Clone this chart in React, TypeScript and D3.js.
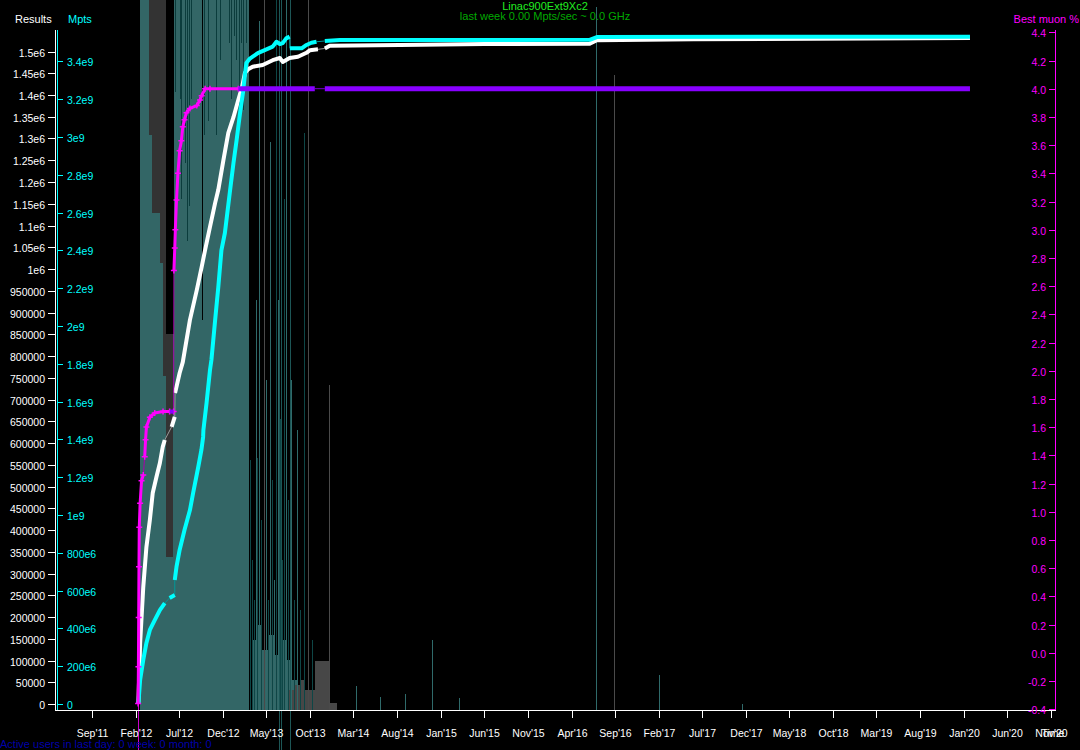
import React, { useEffect } from "react";
import * as d3 from "d3";

const W = 1080;
const H = 750;
const parse = d3.timeParse("%Y-%m-%d");
const parseTick = d3.timeParse("%b'%y");

// ---------- tick labels ----------
const xTickLabels = ["Sep'11","Feb'12","Jul'12","Dec'12","May'13","Oct'13","Mar'14","Aug'14","Jan'15","Jun'15","Nov'15","Apr'16","Sep'16","Feb'17","Jul'17","Dec'17","May'18","Oct'18","Mar'19","Aug'19","Jan'20","Jun'20","Nov'20"];
const resultsTickLabels = ["0","50000","100000","150000","200000","250000","300000","350000","400000","450000","500000","550000","600000","650000","700000","750000","800000","850000","900000","950000","1e6","1.05e6","1.1e6","1.15e6","1.2e6","1.25e6","1.3e6","1.35e6","1.4e6","1.45e6","1.5e6"];
const mptsTickLabels = ["0","200e6","400e6","600e6","800e6","1e9","1.2e9","1.4e9","1.6e9","1.8e9","2e9","2.2e9","2.4e9","2.6e9","2.8e9","3e9","3.2e9","3.4e9"];
const muonTickLabels = ["-0.4","-0.2","0.0","0.2","0.4","0.6","0.8","1.0","1.2","1.4","1.6","1.8","2.0","2.2","2.4","2.6","2.8","3.0","3.2","3.4","3.6","3.8","4.0","4.2","4.4"];

// ---------- series: cumulative results ----------
const resultsData: [string, number][] = [
  ["2012-02-09", 2300], ["2012-02-15", 140000], ["2012-02-26", 269000], ["2012-03-08", 361000],
  ["2012-03-20", 423000], ["2012-03-30", 485000], ["2012-04-12", 522000], ["2012-04-24", 554000],
  ["2012-05-04", 591000], ["2012-05-11", 607000], ["2012-06-04", 637000], ["2012-06-15", 660000],
  ["2012-06-16", 715000], ["2012-06-21", 729000], ["2012-07-02", 761000], ["2012-07-13", 786000],
  ["2012-08-07", 883000], ["2012-08-31", 952000], ["2012-09-17", 1005000], ["2012-09-29", 1044000],
  ["2012-10-16", 1097000], ["2012-11-03", 1152000], ["2012-11-14", 1182000], ["2012-12-02", 1251000],
  ["2012-12-19", 1313000], ["2013-01-06", 1349000], ["2013-01-23", 1389000], ["2013-02-05", 1418000],
  ["2013-02-15", 1451000], ["2013-02-26", 1459000], ["2013-03-14", 1465000], ["2013-04-18", 1469000],
  ["2013-05-23", 1480000], ["2013-06-17", 1485000], ["2013-06-27", 1476000], ["2013-07-21", 1485000],
  ["2013-08-19", 1488000], ["2013-09-18", 1497000], ["2013-09-30", 1503000], ["2013-10-28", 1505000],
  ["2013-11-21", 1507000], ["2013-12-08", 1513000], ["2014-08-09", 1515000], ["2015-06-01", 1517000],
  ["2016-06-03", 1518000], ["2016-06-28", 1526000], ["2017-06-01", 1528000], ["2020-01-22", 1531000],
];
const resultsGaps = [10, 12, 40];

// ---------- series: cumulative Mpts ----------
const mptsData: [string, number][] = [
  ["2012-02-09", 3.7e6], ["2012-02-15", 127e6], ["2012-02-26", 233e6], ["2012-03-08", 323e6],
  ["2012-03-20", 392e6], ["2012-04-06", 444e6], ["2012-04-24", 497e6], ["2012-05-11", 534e6],
  ["2012-05-28", 561e6], ["2012-06-15", 577e6], ["2012-06-15", 656e6], ["2012-06-21", 725e6],
  ["2012-07-02", 815e6], ["2012-07-19", 921e6], ["2012-08-07", 1026e6], ["2012-08-18", 1116e6],
  ["2012-09-05", 1254e6], ["2012-09-16", 1344e6], ["2012-09-22", 1413e6], ["2012-09-23", 1450e6],
  ["2012-10-04", 1593e6], ["2012-10-16", 1767e6], ["2012-10-21", 1820e6], ["2012-11-03", 2032e6],
  ["2012-11-14", 2206e6], ["2012-11-25", 2402e6], ["2012-12-07", 2492e6], ["2012-12-24", 2704e6],
  ["2013-01-06", 2862e6], ["2013-01-17", 2984e6], ["2013-01-29", 3127e6], ["2013-02-08", 3233e6],
  ["2013-02-15", 3330e6], ["2013-02-20", 3392e6], ["2013-03-03", 3413e6], ["2013-04-01", 3444e6],
  ["2013-05-23", 3478e6], ["2013-06-05", 3504e6], ["2013-06-17", 3492e6], ["2013-06-27", 3497e6],
  ["2013-07-09", 3522e6], ["2013-07-21", 3531e6], ["2013-07-22", 3469e6], ["2013-09-01", 3469e6],
  ["2013-09-18", 3487e6], ["2013-10-05", 3499e6], ["2013-10-23", 3504e6], ["2013-11-21", 3508e6],
  ["2014-01-13", 3513e6], ["2016-06-03", 3514e6], ["2016-06-28", 3529e6], ["2020-01-22", 3531e6],
];
const mptsGaps = [8, 10, 42, 47];

// ---------- series: best muon % ----------
const muonData: [string, number][] = [
  ["2012-02-08", -0.36], ["2012-02-09", -0.1], ["2012-02-10", 0.25], ["2012-02-11", 0.61],
  ["2012-02-12", 0.89], ["2012-02-15", 1.06], ["2012-02-20", 1.22], ["2012-02-26", 1.26],
  ["2012-03-02", 1.39], ["2012-03-05", 1.51], ["2012-03-08", 1.6], ["2012-03-20", 1.67],
  ["2012-04-06", 1.7], ["2012-05-05", 1.71], ["2012-05-28", 1.71], ["2012-06-11", 1.71],
  ["2012-06-12", 2.71], ["2012-06-15", 2.87], ["2012-06-17", 3.0], ["2012-06-21", 3.21],
  ["2012-06-26", 3.4], ["2012-07-02", 3.56], ["2012-07-08", 3.63], ["2012-07-13", 3.73],
  ["2012-07-19", 3.78], ["2012-07-26", 3.83], ["2012-08-07", 3.86], ["2012-08-31", 3.88],
  ["2012-09-11", 3.92], ["2012-09-17", 3.95], ["2012-09-29", 4.0], ["2012-10-16", 4.0],
  ["2013-01-23", 4.0],
];
const muonGaps = [8, 16];
const muonPlateauEarly: [string, number][] = [["2012-05-28", 1.71], ["2012-06-11", 1.71]];
const muonPlateauLate: [string, number][] = [
  ["2013-01-23", 4.0], ["2013-10-17", 4.0], ["2013-11-21", 4.0], ["2020-01-22", 4.0],
];
const muonPlateauGaps = [2];

// ---------- background activity (fraction of plot height) ----------
const tealLevels: [string, number][] = [
  ["2012-02-15", 1], ["2012-03-17", 0.81], ["2012-03-28", 0.7], ["2012-04-24", 0.63],
  ["2012-05-04", 0.47], ["2012-05-14", 0.215], ["2012-06-08", 1], ["2013-02-28", 0],
];
const grayLevels: [string, number][] = [
  ["2012-03-17", 1], ["2012-05-14", 0.53], ["2012-06-08", 0],
];
const darkStreaks: [string, number][] = [
  ["2012-06-17", 0.87], ["2012-07-02", 0.86], ["2012-07-08", 0.72], ["2012-07-19", 0.77],
  ["2012-07-27", 0.66], ["2012-08-04", 0.71], ["2012-08-12", 0.86], ["2012-09-25", 0.81],
  ["2012-10-09", 0.83], ["2012-11-06", 0.81], ["2012-11-20", 0.915], ["2012-12-21", 0.94],
  ["2012-12-28", 0.86], ["2013-01-08", 0.95], ["2013-01-15", 0.915], ["2013-01-26", 0.82],
  ["2013-02-02", 0.94], ["2013-02-09", 0.845], ["2013-02-19", 0.94],
];
const blackStreaks: [string, number][] = [["2012-09-17", 0.55], ["2012-06-09", 0.53]];
const tealLow: [string, number][] = [
  ["2013-03-10", 0.099], ["2013-03-24", 0.12], ["2013-04-11", 0.085], ["2013-05-05", 0.106],
  ["2013-05-26", 0.077], ["2013-06-17", 0.099], ["2013-07-07", 0.07], ["2013-07-25", 0.042],
  ["2013-08-16", 0.028], ["2013-09-01", 0],
];
const grayLow: [string, number][] = [
  ["2013-07-14", 0.028], ["2013-08-05", 0.035], ["2013-08-26", 0.042], ["2013-09-12", 0.028],
  ["2013-10-17", 0.069], ["2013-12-08", 0.01], ["2014-01-01", 0],
];
const tealSpikes: [string, number][] = [
  ["2013-03-24", 0.577], ["2013-04-04", 0.97], ["2013-04-28", 0.465], ["2013-05-12", 0.8],
  ["2013-05-26", 0.183], ["2013-06-09", 0.577], ["2013-07-07", 1], ["2013-07-25", 0.465],
  ["2013-08-16", 0.394], ["2014-03-09", 0.034], ["2014-06-01", 0.018], ["2014-08-27", 0.023],
  ["2014-11-30", 0.099], ["2015-03-06", 0.017], ["2016-06-24", 0.99], ["2017-02-01", 0.049],
  ["2017-11-16", 0.008],
];
const darkSpikes: [string, number][] = [
  ["2013-03-03", 0.352], ["2013-03-10", 0.211], ["2013-03-17", 0.155], ["2013-03-30", 0.355],
  ["2013-04-11", 0.268], ["2013-05-05", 0.155], ["2013-05-19", 0.324], ["2013-06-02", 1],
  ["2013-06-17", 0.41], ["2013-06-24", 0.211], ["2013-06-30", 0.72], ["2013-07-14", 0.296],
  ["2013-08-05", 0.155], ["2013-08-26", 0.141], ["2013-09-09", 0.813], ["2013-10-07", 0.099],
];
const graySpikes: [string, number][] = [
  ["2013-04-22", 1], ["2013-09-24", 1], ["2013-12-05", 0.458], ["2016-08-26", 0.894],
];
const belowAxisLines: string[] = ["2013-06-13", "2013-06-20", "2013-07-21"];

const FONT = "'Liberation Sans', Arial, sans-serif";

function splitSegments<T>(data: T[], gaps: number[]) {
  const thick: T[][] = [];
  let cur: T[] = [];
  data.forEach((d, i) => {
    if (gaps.includes(i) && cur.length) {
      thick.push(cur);
      cur = [];
    }
    cur.push(d);
  });
  if (cur.length) thick.push(cur);
  const thin = gaps.map((i) => [data[i - 1], data[i]]);
  return { thick, thin };
}

export default function App() {
  useEffect(() => {
    document.body.style.margin = "0";
    document.body.style.background = "#000";
  }, []);

  const x = d3
    .scaleTime()
    .domain([parseTick(xTickLabels[0]) as Date, parseTick(xTickLabels[xTickLabels.length - 1]) as Date])
    .range([92.3, 1051.3]);
  const yRes = d3.scaleLinear().domain([0, 1.5e6]).range([704, 51.5]);
  const yMpts = d3.scaleLinear().domain([0, 3.4e9]).range([704, 704 - 3.4 * 189]);
  const yMuon = d3.scaleLinear().domain([-0.4, 4.4]).range([709.1, 32.3]);
  const yRate = d3.scaleLinear().domain([0, 1]).range([710, 0]);

  const px = (d: [string, number]) => x(parse(d[0]) as Date);

  const stepArea = d3
    .area<[string, number]>()
    .curve(d3.curveStepAfter)
    .x(px)
    .y0(yRate(0))
    .y1((d) => yRate(d[1]));

  const lineFor = (y: d3.ScaleLinear<number, number>) =>
    d3
      .line<[string, number]>()
      .x(px)
      .y((d) => y(d[1]));

  const resLine = lineFor(yRes);
  const mptsLine = lineFor(yMpts);
  const muonLine = lineFor(yMuon);

  const resSeg = splitSegments(resultsData, resultsGaps);
  const mptsSeg = splitSegments(mptsData, mptsGaps);
  const muonSeg = splitSegments(muonData, muonGaps);
  const plateauSeg = splitSegments(muonPlateauLate, muonPlateauGaps);

  const spikeLines = (data: [string, number][], color: string, key: string) =>
    data.map((d, i) => (
      <line
        key={key + i}
        x1={Math.round(px(d)) + 0.5}
        x2={Math.round(px(d)) + 0.5}
        y1={yRate(0)}
        y2={yRate(d[1])}
        stroke={color}
        strokeWidth={1}
      />
    ));

  const hangLines = (data: [string, number][], color: string, key: string) =>
    data.map((d, i) => (
      <line
        key={key + i}
        x1={Math.round(px(d)) + 0.5}
        x2={Math.round(px(d)) + 0.5}
        y1={yRate(1)}
        y2={yRate(d[1])}
        stroke={color}
        strokeWidth={1}
      />
    ));

  const firstMuon = muonData[0];

  return (
    <svg
      width={W}
      height={H}
      style={{ display: "block", background: "#000", position: "absolute", left: 0, top: 0 }}
      fontFamily={FONT}
      fontSize={10.5}
    >
      <rect x={0} y={0} width={W} height={H} fill="#000" />

      {/* background activity */}
      <g shapeRendering="crispEdges">
        <path d={stepArea(grayLevels) || ""} fill="#333333" />
        <path d={stepArea(tealLevels) || ""} fill="#336666" />
        {hangLines(darkStreaks, "#0b3c3c", "ds")}
        {hangLines(blackStreaks, "#000000", "bs")}
        <path d={stepArea(tealLow) || ""} fill="#336666" />
        <path d={stepArea(grayLow) || ""} fill="#474747" />
        {spikeLines(tealSpikes, "#2f6a6a", "ts")}
        {spikeLines(darkSpikes, "#0e4646", "dk")}
        {spikeLines(graySpikes, "#4a4a4a", "gs")}
        {belowAxisLines.map((d, i) => {
          const xx = Math.round(x(parse(d) as Date)) + 0.5;
          return <line key={"ba" + i} x1={xx} x2={xx} y1={0} y2={H} stroke="#1d5656" strokeWidth={1} />;
        })}
      </g>

      {/* start marker */}
      <line
        x1={Math.round(px(firstMuon)) + 0.5}
        x2={Math.round(px(firstMuon)) + 0.5}
        y1={yMuon(firstMuon[1])}
        y2={H}
        stroke="#cc00cc"
        strokeWidth={1}
      />

      {/* Titles */}
      <text x={545} y={10} textAnchor="middle" fill="#22ee22" fontSize={11}>Linac900Ext9Xc2</text>
      <text x={545} y={20} textAnchor="middle" fill="#00aa00" fontSize={11}>last week 0.00 Mpts/sec ~ 0.0 GHz</text>
      <text x={15} y={23} fill="#ffffff" fontSize={11}>Results</text>
      <text x={68} y={23} fill="#00ffff" fontSize={11}>Mpts</text>
      <text x={1079} y={23} textAnchor="end" fill="#ff00ff" fontSize={11}>Best muon %</text>

      {/* Axes */}
      <g shapeRendering="crispEdges">
        <line x1={55.5} x2={55.5} y1={30} y2={710} stroke="#ffffff" />
        <line x1={57.5} x2={57.5} y1={30} y2={710} stroke="#00ffff" />
        <line x1={1055.5} x2={1055.5} y1={30} y2={710} stroke="#ff00ff" />
        <line x1={55} x2={1056} y1={710.5} y2={710.5} stroke="#ffffff" />
        {resultsTickLabels.map((l) => {
          const y = Math.round(yRes(Number(l))) + 0.5;
          return (
            <g key={"r" + l}>
              <line x1={48} x2={55} y1={y} y2={y} stroke="#ffffff" />
              <text x={45} y={y + 4} textAnchor="end" fill="#ffffff">{l}</text>
            </g>
          );
        })}
        {mptsTickLabels.map((l) => {
          const y = Math.round(yMpts(Number(l))) + 0.5;
          return (
            <g key={"m" + l}>
              <line x1={58} x2={63} y1={y} y2={y} stroke="#00ffff" />
              <text x={67} y={y + 4} fill="#00ffff">{l}</text>
            </g>
          );
        })}
        {muonTickLabels.map((l) => {
          const y = Math.round(yMuon(Number(l))) + 0.5;
          return (
            <g key={"b" + l}>
              <line x1={1049} x2={1055} y1={y} y2={y} stroke="#ff00ff" />
              <text x={1046} y={y + 4} textAnchor="end" fill="#ff00ff">{l}</text>
            </g>
          );
        })}
        {xTickLabels.map((l) => {
          const xx = Math.round(x(parseTick(l) as Date)) + 0.5;
          return (
            <g key={"x" + l}>
              <line x1={xx} x2={xx} y1={711} y2={718} stroke="#ffffff" />
              <text x={xx} y={737} textAnchor="middle" fill="#ffffff">{l}</text>
            </g>
          );
        })}
        <text x={1053} y={737} textAnchor="middle" fill="#ffffff">Time</text>
      </g>

      {/* Results (white) */}
      {resSeg.thin.map((s, i) => (
        <path key={"rt" + i} d={resLine(s as [string, number][]) || ""} stroke="#9a9a9a" strokeWidth={1} fill="none" />
      ))}
      {resSeg.thick.map((s, i) => (
        <path key={"rk" + i} d={resLine(s) || ""} stroke="#ffffff" strokeWidth={4} fill="none" strokeLinejoin="round" />
      ))}

      {/* Mpts (cyan) */}
      {mptsSeg.thin.map((s, i) => (
        <path key={"mt" + i} d={mptsLine(s as [string, number][]) || ""} stroke="#009999" strokeWidth={1} fill="none" />
      ))}
      {mptsSeg.thick.map((s, i) => (
        <path key={"mk" + i} d={mptsLine(s) || ""} stroke="#00ffff" strokeWidth={4} fill="none" strokeLinejoin="round" />
      ))}

      {/* Best muon */}
      {muonSeg.thin.map((s, i) => (
        <path key={"bt" + i} d={muonLine(s as [string, number][]) || ""} stroke="#aa00aa" strokeWidth={1} fill="none" />
      ))}
      {muonSeg.thick.map((s, i) => (
        <path key={"bk" + i} d={muonLine(s) || ""} stroke="#ff00ff" strokeWidth={3} fill="none" strokeLinejoin="round" />
      ))}
      {muonData.map((d, i) => {
        const cx = px(d);
        const cy = yMuon(d[1]);
        return (
          <path key={"bm" + i} d={`M${cx - 3},${cy}h6M${cx},${cy - 3}v6`} stroke="#ff00ff" strokeWidth={1.5} />
        );
      })}
      <path d={muonLine(muonPlateauEarly) || ""} stroke="#8800ff" strokeWidth={4} fill="none" />
      {plateauSeg.thin.map((s, i) => (
        <path key={"pt" + i} d={muonLine(s as [string, number][]) || ""} stroke="#7700cc" strokeWidth={1} fill="none" />
      ))}
      {plateauSeg.thick.map((s, i) => (
        <path key={"pk" + i} d={muonLine(s) || ""} stroke="#8800ff" strokeWidth={5} fill="none" />
      ))}

      <text x={0} y={748} fill="#0000aa" fontSize={11}>Active users in last day: 0  week: 0  month: 0</text>
    </svg>
  );
}
